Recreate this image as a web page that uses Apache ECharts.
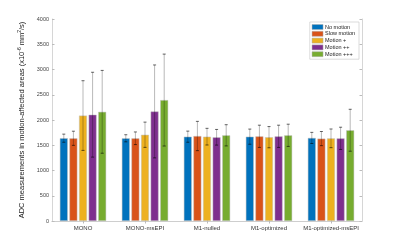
<!DOCTYPE html>
<html>
<head>
	<meta charset="utf-8" />
	<title>ADC measurements</title>
	<script src="https://cdn.jsdelivr.net/npm/echarts@6/dist/echarts.min.js"></script>
	<style>
		html, body { margin: 0; padding: 0; background: #fff; }
		#main { width: 400px; height: 249px; }
	</style>
</head>
<body>
	<div id="main"></div>
	<script type="text/javascript">
		var categories = ['MONO', 'MONO-msEPI', 'M1-nulled', 'M1-optimized', 'M1-optimized-msEPI'];
		var seriesNames = ['No motion', 'Slow motion', 'Motion +', 'Motion ++', 'Motion +++'];
		var colors = ['#0072BD', '#D95319', '#EDB120', '#7E2F8E', '#77AC30'];
		// mean values per motion level (one entry per category)
		var noMotion = [1640, 1638, 1670, 1670, 1645];
		var slowMotion = [1638, 1638, 1683, 1677, 1632];
		var motion1 = [2088, 1708, 1670, 1660, 1637];
		var motion2 = [2105, 2170, 1658, 1677, 1637];
		var motion3 = [2162, 2395, 1697, 1697, 1797];
		// standard deviations
		var sdNoMotion = [80, 70, 110, 150, 110];
		var sdSlowMotion = [140, 125, 290, 220, 140];
		var sdMotion1 = [690, 250, 165, 210, 185];
		var sdMotion2 = [840, 920, 155, 220, 220];
		var sdMotion3 = [820, 910, 210, 220, 415];
		var yTicks = [0, 500, 1000, 1500, 2000, 2500, 3000, 3500, 4000];

		var means = [noMotion, slowMotion, motion1, motion2, motion3];
		var sds = [sdNoMotion, sdSlowMotion, sdMotion1, sdMotion2, sdMotion3];

		var barW = 8;
		var gapW = 1.6;

		var myChart = echarts.init(document.getElementById('main'));

		function errRender(k) {
			return function(params, api) {
				var c = api.value(0);
				var m = api.value(1);
				var s = api.value(2);
				var total = 5 * barW + 4 * gapW;
				var off = -total / 2 + barW / 2 + k * (barW + gapW);
				var pTop = api.coord([c, m + s]);
				var pBot = api.coord([c, m - s]);
				var x = pTop[0] + off;
				var cap = 1.5;
				return {
					type: 'group',
					children: [{
						type: 'line',
						shape: { x1: x, y1: pTop[1], x2: x, y2: pBot[1] },
						style: { stroke: 'rgba(0,0,0,0.28)', lineWidth: 1 }
					}, {
						type: 'line',
						shape: { x1: x - cap, y1: pTop[1], x2: x + cap, y2: pTop[1] },
						style: { stroke: 'rgba(0,0,0,0.6)', lineWidth: 1 }
					}, {
						type: 'line',
						shape: { x1: x - cap, y1: pBot[1], x2: x + cap, y2: pBot[1] },
						style: { stroke: 'rgba(0,0,0,0.6)', lineWidth: 1 }
					}]
				};
			};
		}

		var series = [];
		for (var k = 0; k < 5; k++) {
			series.push({
				name: seriesNames[k],
				type: 'bar',
				data: means[k],
				barWidth: barW,
				barGap: (gapW / barW * 100) + '%',
				itemStyle: { color: colors[k], borderColor: 'rgba(190,190,190,0.8)', borderWidth: 0.6 },
				z: 2
			});
		}
		for (var k = 0; k < 5; k++) {
			var d = [];
			for (var i = 0; i < categories.length; i++) {
				d.push([i, means[k][i], sds[k][i]]);
			}
			series.push({
				type: 'custom',
				renderItem: errRender(k),
				data: d,
				encode: { x: 0, y: 1 },
				z: 5,
				silent: true
			});
		}

		var option = {
			animation: false,
			backgroundColor: '#fff',
			grid: { left: 52, right: 38, top: 19, bottom: 28 },
			legend: {
				data: seriesNames,
				orient: 'vertical',
				right: 41,
				top: 22,
				itemWidth: 11,
				itemHeight: 5,
				itemGap: 0.8,
				padding: [2, 4, 2, 2],
				borderColor: '#ccc',
				borderWidth: 0.7,
				backgroundColor: '#fff',
				textStyle: { fontSize: 5.5, color: '#222', fontFamily: 'Liberation Sans', padding: [0, 0, 0, -3] },
				icon: 'rect',
				itemStyle: { borderColor: '#aaa', borderWidth: 0.5 }
			},
			xAxis: [{
				type: 'category',
				data: categories,
				axisLine: { lineStyle: { color: '#ccc', width: 0.8 } },
				axisTick: { show: true, inside: true, length: 2.5, alignWithLabel: true, lineStyle: { color: '#bbb' } },
				axisLabel: { fontSize: 6, color: '#333', fontFamily: 'Liberation Sans', margin: 4, interval: 0 }
			}, {
				type: 'category',
				data: categories,
				position: 'top',
				axisLine: { show: true, lineStyle: { color: '#ccc', width: 0.8 } },
				axisTick: { show: true, inside: true, length: 2.5, alignWithLabel: true, interval: 0, lineStyle: { color: '#bbb' } },
				axisLabel: { show: false }
			}],
			yAxis: [{
				type: 'value',
				min: yTicks[0],
				max: yTicks[yTicks.length - 1],
				interval: 500,
				name: 'ADC measurements in motion-affected areas (x10{sup|-6} mm{sup|2}/s)',
				nameLocation: 'middle',
				nameRotate: 90,
				nameGap: 19,
				nameTextStyle: {
					fontSize: 7.5, color: '#222', fontFamily: 'Liberation Sans',
					rich: { sup: { fontSize: 5, verticalAlign: 'top', color: '#222', padding: [0, 0, 4, 0] } }
				},
				axisLine: { show: true, lineStyle: { color: '#ccc', width: 0.8 } },
				axisTick: { show: true, inside: true, length: 2.5, lineStyle: { color: '#bbb' } },
				axisLabel: {
					fontSize: 5.5, color: '#444', fontFamily: 'Liberation Sans', margin: 3,
					formatter: function(v) { return String(v); }
				},
				splitLine: { show: false }
			}, {
				type: 'value',
				min: yTicks[0],
				max: yTicks[yTicks.length - 1],
				interval: 500,
				position: 'right',
				axisLine: { show: true, lineStyle: { color: '#ccc', width: 0.8 } },
				axisTick: { show: true, inside: true, length: 2.5, lineStyle: { color: '#bbb' } },
				axisLabel: { show: false },
				splitLine: { show: false }
			}],
			series: series
		};

		myChart.setOption(option);
		window.onresize = myChart.resize;
	</script>
</body>
</html>
